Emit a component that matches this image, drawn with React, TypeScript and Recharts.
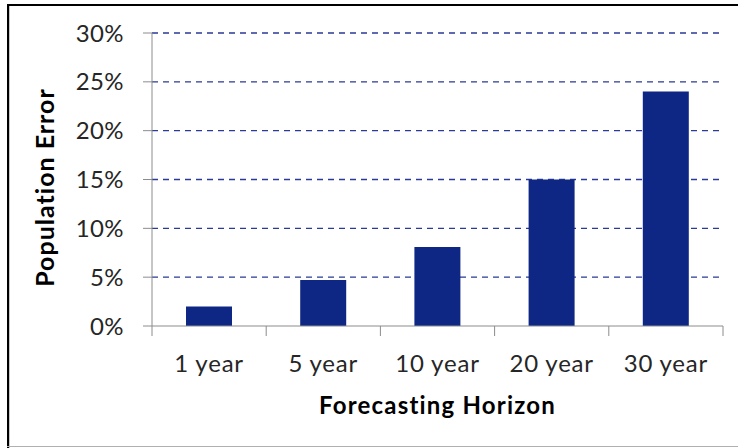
import React from "react";
import { BarChart, Bar, XAxis, YAxis, CartesianGrid, Label } from "recharts";

// Forecast horizons and the population error at each horizon (fraction)
const horizons = ["1 year", "5 year", "10 year", "20 year", "30 year"];
const populationError = [0.02, 0.047, 0.081, 0.15, 0.24];
const yTicks = [0, 0.05, 0.1, 0.15, 0.2, 0.25, 0.3];

const data = horizons.map((h, i) => ({ horizon: h, error: populationError[i] }));

const W = 738;
const H = 448;
const MARGIN = { top: 33, right: 15, bottom: 0, left: 0 };
const Y_AXIS_W = 152;
const X_AXIS_H = 122;
const PLOT_W = W - MARGIN.left - MARGIN.right - Y_AXIS_W;
const BAND = PLOT_W / horizons.length;

const FONT = "Lato, 'Open Sans', sans-serif";
const AXIS_GRAY = "#8c8c8c";
const TEXT = "#262626";

const XTick = (props: any) => {
  const { x, y, payload, index } = props;
  const last = index === horizons.length - 1;
  return (
    <g>
      <line x1={x - BAND / 2} x2={x - BAND / 2} y1={y} y2={y + 10} stroke={AXIS_GRAY} strokeWidth={1} />
      {last && (
        <line x1={x + BAND / 2} x2={x + BAND / 2} y1={y} y2={y + 10} stroke={AXIS_GRAY} strokeWidth={1} />
      )}
      <text
        x={x}
        y={y + 46}
        textAnchor="middle"
        fontFamily={FONT}
        fontSize={24}
        letterSpacing={0.8}
        fill={TEXT}
      >
        {payload.value}
      </text>
    </g>
  );
};

const YTick = (props: any) => {
  const { x, y, payload } = props;
  return (
    <text x={x} y={y + 8.5} textAnchor="end" fontFamily={FONT} fontSize={24} letterSpacing={0.4} fill={TEXT}>
      {`${Math.round(payload.value * 100)}%`}
    </text>
  );
};

export default function App() {
  return (
    <div style={{ position: "absolute", left: 0, top: 0, width: W, height: H, background: "#fff" }}>
      {/* frame */}
      <div style={{ position: "absolute", left: 7, top: 4, width: 2, height: H - 4, background: "#000" }} />
      <div style={{ position: "absolute", left: 9, top: 4, width: 1, height: H - 4, background: "#c8c8c8" }} />
      <div style={{ position: "absolute", left: 7, top: 4, width: W - 7, height: 2, background: "#000" }} />
      <div style={{ position: "absolute", left: 7, top: 446, width: W - 7, height: 1, background: "#b0b0b0" }} />
      <div style={{ position: "absolute", left: 0, top: 0 }}>
        <BarChart width={W} height={H} data={data} margin={MARGIN} barCategoryGap={0}>
          <CartesianGrid
            vertical={false}
            stroke="#2a3a96"
            strokeDasharray="6 5"
            strokeWidth={1.3}
            horizontalValues={yTicks.slice(1)}
          />
          <XAxis
            dataKey="horizon"
            height={X_AXIS_H}
            stroke={AXIS_GRAY}
            tickLine={false}
            tickSize={0}
            tickMargin={0}
            tick={<XTick />}
            interval={0}
          >
            <Label
              value="Forecasting Horizon"
              position="insideTop"
              offset={71}
              style={{ fontFamily: FONT, fontSize: 24, fontWeight: 700, letterSpacing: 1.2, fill: "#000" }}
            />
          </XAxis>
          <YAxis
            width={Y_AXIS_W}
            domain={[0, 0.3]}
            ticks={yTicks}
            stroke={AXIS_GRAY}
            tickSize={9}
            tickMargin={19}
            tick={<YTick />}
            interval={0}
          >
            <Label
              value="Population Error"
              angle={-90}
              position="insideLeft"
              offset={45}
              dy={8}
              style={{
                fontFamily: FONT,
                fontSize: 25,
                fontWeight: 700,
                letterSpacing: 1,
                fill: "#000",
                textAnchor: "middle",
              }}
            />
          </YAxis>
          <Bar dataKey="error" fill="#0f2784" barSize={46} isAnimationActive={false} />
        </BarChart>
      </div>
    </div>
  );
}
